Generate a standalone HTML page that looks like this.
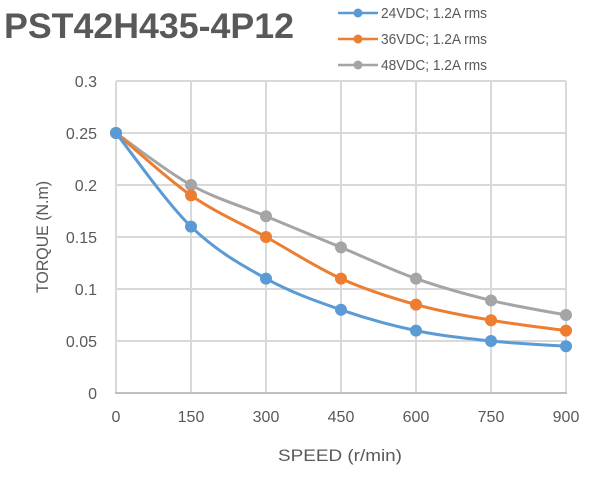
<!DOCTYPE html>
<html><head><meta charset="utf-8"><style>
html,body{margin:0;padding:0;background:#fff;}
svg{display:block;font-family:"Liberation Sans",sans-serif;}
</style></head><body>
<svg id="s" width="604" height="477" viewBox="0 0 604 477">
<text x="4" y="38" font-size="35" font-weight="bold" fill="#595959" textLength="290" lengthAdjust="spacingAndGlyphs">PST42H435-4P12</text>
<g id="grid" stroke="#d9d9d9" stroke-width="2"></g>
<g id="lbl" font-size="16" fill="#595959"></g>
<text x="340" y="461" font-size="17" fill="#595959" text-anchor="middle" textLength="124" lengthAdjust="spacingAndGlyphs">SPEED (r/min)</text>
<text transform="translate(48,237) rotate(-90)" font-size="17" fill="#595959" text-anchor="middle" textLength="112" lengthAdjust="spacingAndGlyphs">TORQUE (N.m)</text>
<g id="series"></g>
<g font-size="15" fill="#595959">
<line x1="338" y1="13" x2="378" y2="13" stroke="#5b9bd5" stroke-width="2.5"/><circle cx="358" cy="13" r="4.5" fill="#5b9bd5"/><text x="381" y="18" textLength="106" lengthAdjust="spacingAndGlyphs">24VDC; 1.2A rms</text>
<line x1="338" y1="39" x2="378" y2="39" stroke="#ed7d31" stroke-width="2.5"/><circle cx="358" cy="39" r="4.5" fill="#ed7d31"/><text x="381" y="44" textLength="106" lengthAdjust="spacingAndGlyphs">36VDC; 1.2A rms</text>
<line x1="338" y1="65" x2="378" y2="65" stroke="#a5a5a5" stroke-width="2.5"/><circle cx="358" cy="65" r="4.5" fill="#a5a5a5"/><text x="381" y="70" textLength="106" lengthAdjust="spacingAndGlyphs">48VDC; 1.2A rms</text>
</g>
</svg>
<script>
var NS="http://www.w3.org/2000/svg";
function X(i){return 116+i*75;} function Y(v){return 393-v*1040;}
function el(p,t,a,txt){var e=document.createElementNS(NS,t);for(var k in a)e.setAttribute(k,a[k]);if(txt!=null)e.textContent=txt;document.getElementById(p).appendChild(e);return e;}
for(var i=0;i<=6;i++){el("grid","line",{x1:X(i),y1:81,x2:X(i),y2:393});}
for(var j=0;j<=6;j++){var v=j*0.05;el("grid","line",{x1:116,y1:Y(v),x2:566,y2:Y(v)});}
el("grid","line",{x1:115,y1:393,x2:567,y2:393,stroke:"#bfbfbf"});
var yl=["0","0.05","0.1","0.15","0.2","0.25","0.3"];
for(var j=0;j<=6;j++)el("lbl","text",{x:97,y:Y(j*0.05)+6,"text-anchor":"end"},yl[j]);
for(var i=0;i<=6;i++)el("lbl","text",{x:X(i),y:422,"text-anchor":"middle"},String(i*150));
var S=[["#a5a5a5",[.25,.2,.17,.14,.11,.089,.075]],["#ed7d31",[.25,.19,.15,.11,.085,.07,.06]],["#5b9bd5",[.25,.16,.11,.08,.06,.05,.045]]];
S.forEach(function(s){var p=s[1].map(function(v,i){return[X(i),Y(v)];});
var d="M"+p[0][0]+","+p[0][1];
for(var i=0;i<p.length-1;i++){var p0=p[Math.max(i-1,0)],p1=p[i],p2=p[i+1],p3=p[Math.min(i+2,p.length-1)],t=0.5/3;
d+=" C"+(p1[0]+(p2[0]-p0[0])*t)+","+(p1[1]+(p2[1]-p0[1])*t)+" "+(p2[0]-(p3[0]-p1[0])*t)+","+(p2[1]-(p3[1]-p1[1])*t)+" "+p2[0]+","+p2[1];}
el("series","path",{d:d,fill:"none",stroke:s[0],"stroke-width":3});
p.forEach(function(q){el("series","circle",{cx:q[0],cy:q[1],r:6,fill:s[0]});});});
</script>
</body></html>
